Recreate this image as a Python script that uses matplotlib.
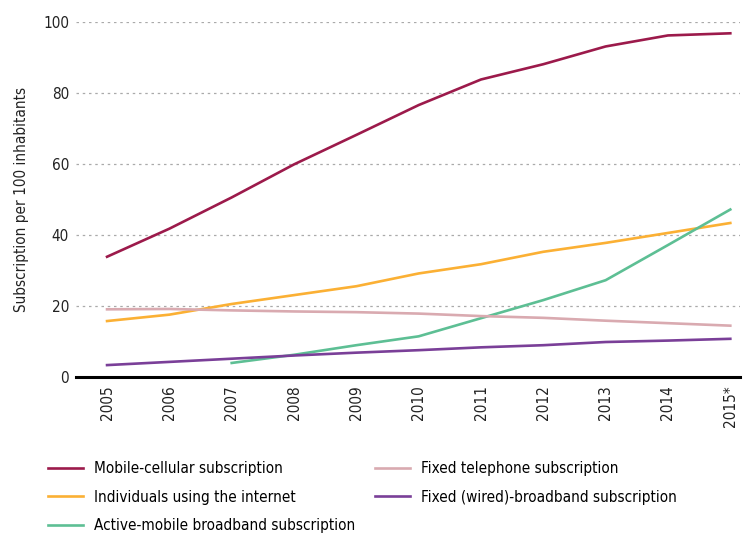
import matplotlib
matplotlib.use('Agg')
import matplotlib.pyplot as plt

plt.rcParams['font.family'] = ['DejaVu Sans']
plt.rcParams['font.stretch'] = 'condensed'

years = [2005, 2006, 2007, 2008, 2009, 2010, 2011, 2012, 2013, 2014, 2015]
year_labels = ['2005', '2006', '2007', '2008', '2009', '2010', '2011', '2012', '2013', '2014', '2015*']

mobile = [33.9, 41.8, 50.6, 59.9, 68.2, 76.6, 83.8, 88.1, 93.1, 96.2, 96.8]
internet = [15.8, 17.6, 20.6, 23.1, 25.6, 29.2, 31.8, 35.3, 37.8, 40.6, 43.4]
fixed_tel = [19.1, 19.2, 18.8, 18.5, 18.3, 17.9, 17.2, 16.7, 15.9, 15.2, 14.5]
broadband = [3.4, 4.3, 5.2, 6.1, 6.9, 7.6, 8.4, 9.0, 9.9, 10.3, 10.8]
active_years = [2007, 2008, 2009, 2010, 2011, 2012, 2013, 2014, 2015]
active = [4.0, 6.3, 9.0, 11.5, 16.6, 21.7, 27.3, 37.2, 47.2]

fig = plt.figure(figsize=(7.44, 5.35), dpi=100)
ax = fig.add_axes([0.102, 0.295, 0.893, 0.664])

# grid lines first so series sit on top
for v in [20, 40, 60, 80, 100]:
    ax.axhline(v, color='#aaaaaa', lw=0.9, ls=(0, (2, 3)), zorder=1)

lw = 1.9
l1, = ax.plot(years, mobile, color='#9c1a4b', lw=lw, label='Mobile-cellular subscription', zorder=3)
l2, = ax.plot(years, internet, color='#fbb034', lw=lw, label='Individuals using the internet', zorder=3)
l3, = ax.plot(active_years, active, color='#5dbf94', lw=lw, label='Active-mobile broadband subscription', zorder=3)
l4, = ax.plot(years, fixed_tel, color='#d9aab0', lw=lw, label='Fixed telephone subscription', zorder=3)
l5, = ax.plot(years, broadband, color='#7a3f98', lw=lw, label='Fixed (wired)-broadband subscription', zorder=3)

ax.set_xlim(2004.5, 2015.16)
ax.set_ylim(0, 100)
ax.set_yticks([0, 20, 40, 60, 80, 100])
ax.set_xticks(years)
ax.set_xticklabels(year_labels, rotation=90)
ax.tick_params(axis='both', length=0, labelsize=11, colors='#222222')
ax.tick_params(axis='y', pad=5)
ax.tick_params(axis='x', pad=6)

for s in ['top', 'right', 'left']:
    ax.spines[s].set_visible(False)
ax.spines['bottom'].set_linewidth(2.2)
ax.spines['bottom'].set_color('black')
ax.spines['bottom'].set_zorder(4)

ax.set_ylabel('Subscription per 100 inhabitants', fontsize=11, color='#222222', labelpad=10)

fig.legend(handles=[l1, l2, l3, l4, l5], ncol=2, frameon=False,
           loc='upper left', bbox_to_anchor=(0.056, 0.150),
           fontsize=11, handlelength=2.3, handletextpad=0.7,
           columnspacing=1.3, labelspacing=0.9, borderaxespad=0)

fig.savefig('out.png', dpi=100)
